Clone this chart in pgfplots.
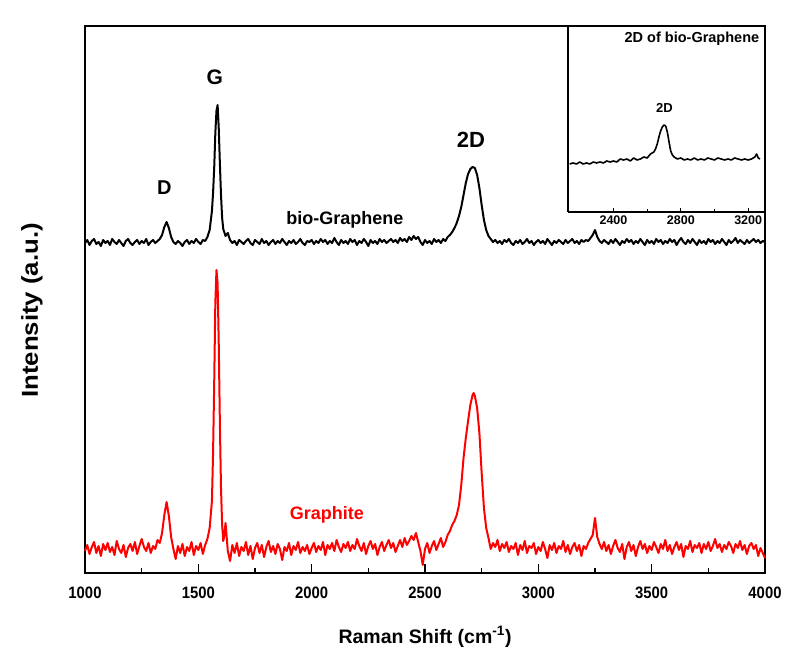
\documentclass[border=0pt]{standalone}
\usepackage{fontspec}
\setmainfont{Liberation Sans}
\usepackage{pgfplots}
\pgfplotsset{compat=1.18}

% spectra: y is in the axis' own units (0 = axis bottom)
\pgfplotstableread{
x y
1000 330
1010 333
1020 328
1030 332
1040 334
1050 329
1060 331
1070 327
1080 333
1090 330
1100 332
1110 328
1120 334
1130 331
1140 329
1150 333
1160 330
1170 327
1180 332
1190 334
1200 330
1210 328
1220 331
1230 333
1240 329
1250 332
1260 330
1270 334
1280 328
1290 331
1300 333
1310 330
1320 332
1330 334
1340 338
1350 346
1360 351
1370 345
1380 336
1390 331
1400 329
1410 332
1420 330
1430 327
1440 331
1450 333
1460 329
1470 332
1480 330
1490 334
1500 331
1510 329
1520 333
1530 332
1540 336
1550 343
1560 362
1565 380
1570 405
1575 440
1580 462
1585 468
1590 445
1595 410
1600 378
1605 355
1610 344
1620 337
1630 340
1640 333
1650 330
1660 332
1670 328
1680 333
1690 331
1700 329
1710 332
1720 334
1730 330
1740 328
1750 333
1760 331
1770 329
1780 334
1790 330
1800 332
1810 328
1820 331
1830 333
1840 329
1850 332
1860 330
1870 334
1880 331
1890 328
1900 332
1910 330
1920 333
1930 329
1940 331
1950 334
1960 330
1970 328
1980 332
1990 331
2000 333
2010 329
2020 332
2030 330
2040 334
2050 331
2060 333
2070 329
2080 332
2090 330
2100 335
2110 331
2120 328
2130 333
2140 330
2150 332
2160 329
2170 334
2180 331
2190 333
2200 328
2210 332
2220 330
2230 334
2240 331
2250 327
2260 333
2270 330
2280 332
2290 329
2300 334
2310 331
2320 333
2330 330
2340 332
2350 334
2360 331
2370 333
2380 330
2390 335
2400 332
2410 334
2420 331
2430 336
2440 333
2450 337
2460 334
2470 336
2480 331
2490 328
2500 333
2510 330
2520 332
2530 329
2540 334
2550 331
2560 333
2570 330
2580 334
2590 332
2600 336
2610 338
2620 341
2630 345
2640 350
2650 357
2660 366
2670 378
2680 390
2690 399
2700 404
2710 406
2720 405
2730 398
2740 385
2750 368
2760 353
2770 343
2780 337
2790 334
2800 331
2810 333
2820 330
2830 332
2840 329
2850 333
2860 331
2870 334
2880 330
2890 328
2900 332
2910 330
2920 333
2930 329
2940 331
2950 334
2960 330
2970 332
2980 328
2990 331
3000 333
3010 330
3020 332
3030 329
3040 334
3050 331
3060 328
3070 332
3080 330
3090 333
3100 331
3110 329
3120 333
3130 330
3140 332
3150 334
3160 330
3170 332
3180 329
3190 333
3200 331
3210 333
3220 332
3230 335
3240 338
3250 343
3260 336
3270 332
3280 330
3290 333
3300 331
3310 329
3320 333
3330 330
3340 334
3350 331
3360 328
3370 332
3380 330
3390 334
3400 331
3410 333
3420 329
3430 332
3440 330
3450 334
3460 331
3470 328
3480 333
3490 330
3500 332
3510 329
3520 334
3530 331
3540 333
3550 329
3560 332
3570 330
3580 334
3590 331
3600 333
3610 328
3620 332
3630 335
3640 331
3650 329
3660 333
3670 330
3680 334
3690 331
3700 328
3710 333
3720 330
3730 332
3740 329
3750 334
3760 331
3770 333
3780 329
3790 332
3800 330
3810 334
3820 331
3830 328
3840 333
3850 330
3860 332
3870 335
3880 330
3890 333
3900 331
3910 329
3920 333
3930 330
3940 332
3950 334
3960 331
3970 333
3980 330
3990 332
4000 331
}\biographene

\pgfplotstableread{
x y
1000 22
1010 28
1020 19
1030 26
1040 31
1050 20
1060 27
1070 17
1080 29
1090 23
1100 30
1110 21
1120 26
1130 18
1140 32
1150 24
1160 20
1170 28
1180 16
1190 25
1200 29
1210 22
1220 31
1230 19
1240 27
1250 34
1260 26
1270 22
1280 30
1290 20
1300 27
1310 24
1320 33
1330 30
1340 40
1350 58
1360 71
1370 57
1380 36
1390 24
1400 14
1410 27
1420 20
1430 29
1440 17
1450 26
1460 22
1470 31
1480 18
1490 27
1500 23
1510 30
1520 19
1530 28
1540 34
1550 45
1560 72
1565 120
1570 190
1575 270
1580 303
1585 290
1590 230
1595 150
1600 85
1605 48
1610 32
1615 38
1620 50
1625 36
1630 22
1640 12
1650 28
1660 20
1670 30
1680 17
1690 26
1700 22
1710 31
1720 18
1730 27
1740 14
1750 25
1760 30
1770 20
1780 28
1790 16
1800 26
1810 32
1820 21
1830 27
1840 19
1850 29
1860 24
1870 13
1880 26
1890 22
1900 30
1910 18
1920 27
1930 23
1940 31
1950 20
1960 26
1970 22
1980 28
1990 19
2000 25
2010 30
2020 21
2030 27
2040 23
2050 31
2060 18
2070 28
2080 24
2090 30
2100 22
2110 33
2120 26
2130 21
2140 29
2150 25
2160 31
2170 22
2180 28
2190 24
2200 34
2210 27
2220 22
2230 30
2240 19
2250 27
2260 32
2270 24
2280 29
2290 18
2300 26
2310 31
2320 22
2330 28
2340 33
2350 25
2360 30
2370 21
2380 27
2390 33
2400 26
2410 35
2420 28
2430 32
2440 37
2450 33
2460 40
2470 31
2480 22
2490 8
2500 24
2510 30
2520 20
2530 27
2540 32
2550 23
2560 29
2570 35
2580 26
2590 31
2600 38
2610 42
2620 48
2630 52
2640 58
2650 68
2660 88
2670 115
2680 135
2690 152
2700 168
2710 178
2715 180
2720 177
2730 165
2740 140
2750 100
2760 65
2770 45
2780 35
2790 24
2800 30
2810 26
2820 33
2830 22
2840 29
2850 25
2860 31
2870 21
2880 27
2890 24
2900 30
2910 18
2920 28
2930 23
2940 32
2950 20
2960 27
2970 25
2980 30
2990 19
3000 26
3010 22
3020 31
3030 24
3040 15
3050 28
3060 23
3070 30
3080 20
3090 27
3100 24
3110 32
3120 21
3130 28
3140 19
3150 26
3160 30
3170 22
3180 28
3190 17
3200 27
3210 24
3220 30
3230 34
3240 38
3250 55
3260 36
3270 29
3280 24
3290 31
3300 22
3310 28
3320 19
3330 27
3340 33
3350 25
3360 21
3370 29
3380 14
3390 26
3400 31
3410 22
3420 28
3430 17
3440 26
3450 32
3460 24
3470 29
3480 20
3490 27
3500 23
3510 31
3520 26
3530 20
3540 29
3550 24
3560 33
3570 22
3580 28
3590 19
3600 26
3610 31
3620 23
3630 29
3640 16
3650 27
3660 24
3670 32
3680 21
3690 28
3700 25
3710 30
3720 20
3730 29
3740 24
3750 31
3760 22
3770 27
3780 34
3790 25
3800 29
3810 21
3820 28
3830 24
3840 31
3850 27
3860 20
3870 29
3880 25
3890 32
3900 23
3910 28
3920 19
3930 27
3940 30
3950 24
3960 28
3970 17
3980 25
3990 20
4000 15
}\graphite

\pgfplotstableread{
x y
2140 48
2160 49
2180 48
2200 50
2220 48
2240 49
2260 48
2280 50
2300 49
2320 50
2340 49
2360 51
2380 50
2400 51
2420 50
2440 53
2460 52
2480 53
2500 51
2520 54
2540 52
2560 53
2580 55
2600 54
2620 58
2640 60
2650 63
2660 68
2670 75
2680 81
2690 85
2700 87
2710 86
2720 80
2730 70
2740 61
2750 57
2760 55
2780 53
2800 54
2820 52
2840 53
2860 52
2880 54
2900 52
2920 53
2940 52
2960 54
2980 53
3000 52
3020 54
3040 53
3060 52
3080 53
3100 52
3120 54
3140 53
3160 52
3180 53
3200 52
3220 53
3240 55
3250 58
3260 54
3270 53
}\inset

\begin{document}
\begin{tikzpicture}
\useasboundingbox (0,0) rectangle (798pt,668pt);

\begin{axis}[
  at={(85pt,95pt)}, anchor=south west,
  scale only axis, width=680pt, height=547pt,
  xmin=1000, xmax=4000, ymin=0, ymax=547,
  xtick={1000,1500,...,4000}, minor x tick num=1, ytick=\empty,
  xtick pos=bottom, tick align=inside,
  major tick length=9pt, minor tick length=5pt,
  every tick/.style={black, line width=1.2pt},
  axis line style={line width=1.8pt},
  /pgf/number format/assume math mode=true,
  /pgf/number format/set thousands separator={},
  xticklabel style={font=\fontsize{16.5}{19}\selectfont\bfseries, xscale=0.9, yshift=-10pt},
  xlabel={Raman Shift (cm\textsuperscript{-1})},
  xlabel style={font=\fontsize{19.5}{23}\selectfont\bfseries, at={(axis description cs:0.5,-0.117)}, anchor=center},
  ylabel={Intensity (a.u.)},
  ylabel style={font=\fontsize{23}{27}\selectfont\bfseries, xscale=1.12, at={(axis description cs:-0.078,0.48)}, anchor=center},
  clip=false,
]
\addplot[black, line width=2pt, line join=round, no markers] table {\biographene};
\addplot[red, line width=2pt, line join=round, no markers] table {\graphite};
\node[font=\fontsize{20}{24}\selectfont\bfseries] at (axis cs:1350,385) {D};
\node[font=\fontsize{21}{25}\selectfont\bfseries] at (axis cs:1573,496) {G};
\node[font=\fontsize{22}{26}\selectfont\bfseries] at (axis cs:2703,433) {2D};
\node[font=\fontsize{18}{22}\selectfont\bfseries] at (axis cs:2147,353) {bio-Graphene};
\node[font=\fontsize{18}{22}\selectfont\bfseries, text=red] at (axis cs:2067,58) {Graphite};
\end{axis}

\begin{axis}[
  at={(568pt,456pt)}, anchor=south west,
  scale only axis, width=197pt, height=186pt,
  xmin=2130, xmax=3300, ymin=0, ymax=186,
  axis x line=bottom, axis y line=left,
  axis line style={-, line width=1.2pt},
  xtick={2400,2800,3200}, minor x tick num=1, ytick=\empty,
  tick align=inside, major tick length=4pt, minor tick length=2.5pt,
  every tick/.style={black, line width=0.8pt},
  /pgf/number format/assume math mode=true,
  /pgf/number format/set thousands separator={},
  xticklabel style={font=\fontsize{12.5}{15}\selectfont\bfseries},
]
\addplot[black, line width=1.6pt, line join=round, no markers] table {\inset};
\node[font=\fontsize{14.5}{17}\selectfont\bfseries] at (axis cs:2866,173) {2D of bio-Graphene};
\node[font=\fontsize{13}{15}\selectfont\bfseries] at (axis cs:2703,104) {2D};
\end{axis}
\end{tikzpicture}
\end{document}
